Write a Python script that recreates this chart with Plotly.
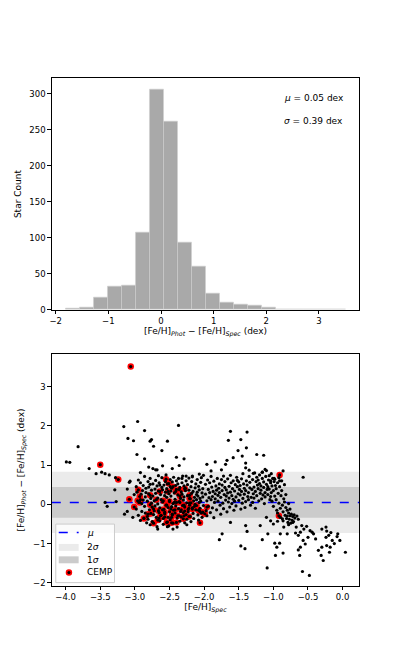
import plotly.graph_objects as go
import numpy as np

# top panel: histogram of the residuals
hist_min, hist_max = -1.81, 3.50
hist_counts = [2, 3, 17, 32, 34, 108, 306, 262, 93, 60, 23, 10, 7, 6, 3, 1, 1, 1, 0, 1]
mu, sigma = 0.05, 0.39

# bottom panel: ([Fe/H]_Spec, residual) pairs
stars_outer = [
    (-3.99, 1.08), (-3.94, 1.07), (-3.82, 1.47), (-3.66, 0.91), (-3.56, 0.78), (-3.48, 0.82),
    (-3.43, 0.78), (-3.37, 0.75), (-3.28, 0.68), (-3.16, 1.98), (-3.10, 1.68), (-3.02, 1.62),
    (-2.96, 2.11), (-2.97, 1.27), (-2.86, 1.88), (-2.78, 1.61), (-2.76, 1.65), (-2.73, 1.48),
    (-2.86, 1.16), (-2.92, 0.81), (-2.80, 0.95), (-2.74, 0.91), (-2.70, 0.88), (-2.53, 1.61),
    (-2.61, 1.37), (-2.60, 0.98), (-2.68, 0.88), (-2.37, 2.01), (-2.40, 1.20), (-2.29, 1.16),
    (-2.36, 0.99), (-2.46, 0.91), (-2.07, 0.77), (-2.17, 0.72), (-2.26, 0.72), (-2.32, 0.66),
    (-1.96, 1.02), (-1.90, 0.85), (-1.84, 1.08), (-1.75, 0.88), (-1.69, 1.02), (-1.67, 1.12),
    (-1.62, 1.86), (-1.65, 1.63), (-1.58, 1.19), (-1.51, 1.37), (-1.47, 1.65), (-1.45, 1.23),
    (-1.39, 1.44), (-1.38, 1.84), (-1.40, 1.05), (-1.40, 0.93), (-1.35, 0.87), (-1.29, 0.79),
    (-1.24, 1.27), (-1.14, 1.25), (-1.12, 0.89), (-1.16, 0.82), (-1.03, 0.78), (-0.86, 0.85),
    (-0.57, 0.69), (-0.91, 0.60), (-0.99, 0.66), (-1.04, 0.60), (-3.07, 0.59), (-3.08, 0.56),
    (-3.29, 0.37), (-3.11, 0.39), (-2.78, 0.51), (-2.64, 0.49), (-3.01, 0.25), (-3.40, -0.05),
    (-3.43, 0.05), (-3.27, 0.07), (-3.11, -0.18), (-3.15, -0.25), (-3.03, -0.33),
]

stars_core = [
    (-2.98, 0.45), (-2.98, -0.12), (-2.97, 0.31), (-2.95, 0.62), (-2.95, -0.28), (-2.94, 0.05),
    (-2.92, 0.55), (-2.92, -0.41), (-2.91, 0.26), (-2.90, 0.02), (-2.89, 0.35), (-2.90, -0.18),
    (-2.88, 0.48), (-2.87, -0.35), (-2.88, 0.11), (-2.86, 0.71), (-2.85, 0.19), (-2.86, -0.05),
    (-2.85, -0.22), (-2.84, 0.30), (-2.83, -0.47), (-2.84, 0.41), (-2.82, 0.08), (-2.81, 0.58),
    (-2.82, -0.31), (-2.80, 0.27), (-2.79, -0.14), (-2.80, 0.44), (-2.81, -0.38), (-2.78, 0.66),
    (-2.77, 0.15), (-2.78, -0.52), (-2.76, 0.36), (-2.75, -0.07), (-2.76, 0.03), (-2.74, 0.52),
    (-2.73, -0.26), (-2.74, 0.21), (-2.75, -0.44), (-2.72, 0.09), (-2.71, 0.39), (-2.72, -0.17),
    (-2.70, 0.61), (-2.69, -0.33), (-2.70, 0.28), (-2.71, -0.04), (-2.68, 0.47), (-2.67, 0.16),
    (-2.68, -0.57), (-2.66, 0.73), (-2.65, -0.21), (-2.66, 0.34), (-2.67, 0.01), (-2.64, -0.09),
    (-2.63, 0.25), (-2.64, -0.42), (-2.65, 0.55), (-2.62, 0.12), (-2.61, 0.43), (-2.62, -0.28),
    (-2.60, 0.37), (-2.59, -0.51), (-2.60, 0.06), (-2.61, 0.68), (-2.58, -0.13), (-2.57, 0.22),
    (-2.58, 0.49), (-2.59, -0.36), (-2.56, 0.31), (-2.55, -0.02), (-2.56, 0.58), (-2.57, -0.24),
    (-2.54, 0.18), (-2.53, -0.45), (-2.54, 0.40), (-2.55, 0.75), (-2.52, -0.08), (-2.51, 0.27),
    (-2.52, -0.33), (-2.53, 0.52), (-2.50, 0.10), (-2.49, 0.45), (-2.50, -0.19), (-2.51, -0.55),
    (-2.49, 0.63), (-2.48, 0.34), (-2.47, -0.06), (-2.48, 0.21), (-2.49, -0.39), (-2.46, 0.57),
    (-2.45, 0.02), (-2.46, -0.27), (-2.47, 0.41), (-2.44, -0.15), (-2.43, 0.29), (-2.44, 0.69),
    (-2.45, -0.48), (-2.42, 0.13), (-2.41, 0.48), (-2.42, -0.22), (-2.43, 0.05), (-2.40, 0.38),
    (-2.39, -0.35), (-2.40, 0.60), (-2.41, -0.04), (-2.38, 0.24), (-2.37, -0.11), (-2.38, 0.52),
    (-2.39, -0.58), (-2.36, 0.07), (-2.35, 0.43), (-2.36, -0.29), (-2.37, 0.66), (-2.34, -0.18),
    (-2.33, 0.32), (-2.34, 0.15), (-2.35, -0.43), (-2.32, 0.55), (-2.31, -0.03), (-2.32, 0.26),
    (-2.33, -0.32), (-2.30, 0.11), (-2.29, 0.47), (-2.30, -0.21), (-2.31, 0.72), (-2.28, -0.07),
    (-2.27, 0.35), (-2.28, -0.47), (-2.29, 0.19), (-2.26, 0.60), (-2.25, 0.04), (-2.26, -0.26),
    (-2.27, 0.41), (-2.24, 0.22), (-2.23, -0.13), (-2.24, 0.50), (-2.25, -0.38), (-2.22, 0.36),
    (-2.21, -0.02), (-2.22, 0.67), (-2.23, -0.19), (-2.20, 0.14), (-2.19, 0.45), (-2.20, -0.31),
    (-2.21, 0.03), (-2.18, 0.58), (-2.17, -0.09), (-2.18, 0.28), (-2.19, -0.44), (-2.16, 0.33),
    (-2.15, 0.09), (-2.16, -0.23), (-2.17, 0.70), (-2.14, -0.05), (-2.13, 0.42), (-2.14, 0.18),
    (-2.15, -0.36), (-2.12, 0.52), (-2.11, 0.25), (-2.12, -0.14), (-2.13, 0.00), (-2.10, 0.31),
    (-2.09, -0.27), (-2.10, 0.63), (-2.11, 0.12), (-2.08, 0.46), (-2.07, 0.05), (-2.08, -0.40),
    (-2.09, 0.21), (-2.06, 0.15), (-2.05, 0.56), (-2.06, -0.10), (-2.07, 0.37), (-2.04, -0.22),
    (-2.03, 0.29), (-2.04, 0.68), (-2.05, 0.08), (-2.02, 0.40), (-2.01, -0.03), (-2.02, 0.19),
    (-2.03, -0.33), (-2.01, 0.74),
    (-1.98, 0.26), (-1.97, -0.16), (-1.98, 0.51), (-1.96, 0.09), (-1.95, 0.62), (-1.96, -0.29),
    (-1.94, 0.38), (-1.93, 0.17), (-1.94, -0.05), (-1.92, 0.55), (-1.91, -0.21), (-1.92, 0.30),
    (-1.90, 0.12), (-1.89, 0.44), (-1.90, 0.71), (-1.88, -0.09), (-1.87, 0.33), (-1.88, 0.20),
    (-1.86, 0.59), (-1.85, 0.05), (-1.86, -0.34), (-1.84, 0.27), (-1.83, 0.47), (-1.84, 0.14),
    (-1.82, -0.14), (-1.81, 0.66), (-1.82, 0.36), (-1.80, 0.08), (-1.79, 0.41), (-1.80, 0.23),
    (-1.78, 0.52), (-1.77, -0.02), (-1.78, 0.30), (-1.76, 0.18), (-1.75, 0.63), (-1.76, -0.25),
    (-1.74, 0.35), (-1.73, 0.03), (-1.74, 0.49), (-1.72, -0.11), (-1.71, 0.25), (-1.72, 0.72),
    (-1.70, 0.43), (-1.69, 0.11), (-1.70, 0.58), (-1.68, 0.21), (-1.67, -0.19), (-1.68, 0.37),
    (-1.66, 0.65), (-1.65, 0.06), (-1.66, 0.29), (-1.64, 0.46), (-1.63, -0.07), (-1.64, 0.16),
    (-1.62, 0.31), (-1.61, 0.55), (-1.62, 0.74), (-1.60, 0.02), (-1.59, 0.40), (-1.60, 0.22),
    (-1.58, 0.60), (-1.57, -0.15), (-1.58, 0.13), (-1.56, 0.34), (-1.55, 0.50), (-1.56, 0.08),
    (-1.54, 0.19), (-1.53, 0.69), (-1.54, -0.04), (-1.52, 0.45), (-1.51, 0.27), (-1.52, 0.61),
    (-1.50, 0.10), (-1.49, 0.38), (-1.50, 0.57), (-1.48, 0.24), (-1.47, -0.12), (-1.48, 0.48),
    (-1.46, 0.65), (-1.45, 0.03), (-1.46, 0.33), (-1.44, 0.15), (-1.43, 0.52), (-1.44, 0.78),
    (-1.42, 0.41), (-1.41, -0.08), (-1.42, 0.26), (-1.40, 0.07), (-1.39, 0.60), (-1.40, 0.35),
    (-1.38, 0.49), (-1.37, 0.20), (-1.36, 0.30), (-1.35, 0.71), (-1.36, 0.12), (-1.34, 0.56),
    (-1.33, -0.02), (-1.34, 0.42), (-1.32, 0.18), (-1.31, 0.38), (-1.30, 0.63), (-1.29, 0.27),
    (-1.30, 0.05), (-1.28, 0.44), (-1.27, 0.80), (-1.28, 0.16), (-1.26, 0.33), (-1.25, 0.58),
    (-1.26, -0.10), (-1.24, 0.22), (-1.23, 0.49), (-1.24, 0.69), (-1.22, 0.40), (-1.21, 0.09),
    (-1.22, 0.62), (-1.20, 0.53), (-1.19, 0.28), (-1.20, 0.75), (-1.18, 0.36), (-1.17, 0.14),
    (-1.18, 0.47), (-1.16, 0.66), (-1.15, 0.24), (-1.16, 0.82), (-1.14, 0.43), (-1.13, 0.02),
    (-1.14, 0.57), (-1.12, 0.30), (-1.11, 0.71), (-1.12, 0.19), (-1.10, 0.51), (-1.09, 0.38),
    (-1.10, 0.86), (-1.08, 0.25), (-1.07, 0.62), (-1.08, 0.45), (-1.06, 0.39), (-1.05, 0.12),
    (-1.06, 0.73), (-1.04, 0.55), (-1.03, 0.30), (-1.04, 0.20), (-1.02, 0.47), (-1.01, 0.66),
    (-1.02, 0.08),
    (-1.00, 0.35), (-0.99, 0.58), (-1.00, -0.05), (-0.98, 0.21), (-0.97, 0.48), (-0.98, 0.64),
    (-0.96, 0.12), (-0.95, -0.15), (-0.96, 0.40), (-0.94, 0.55), (-0.93, 0.28), (-0.94, -0.22),
    (-0.92, 0.03), (-0.91, 0.45), (-0.92, 0.68), (-0.90, -0.10), (-0.89, 0.22), (-0.90, -0.33),
    (-0.88, 0.35), (-0.87, -0.02), (-0.88, 0.60), (-0.86, -0.19), (-0.85, 0.14), (-0.86, -0.42),
    (-0.84, 0.06), (-0.83, -0.28), (-0.84, 0.50), (-0.82, -0.08), (-0.81, -0.36), (-0.82, 0.25),
    (-0.80, -0.15), (-0.79, -0.46), (-0.80, -0.30), (-0.78, -0.22), (-0.77, -0.38), (-0.78, 0.02),
    (-0.76, -0.29), (-0.75, -0.48), (-0.76, -0.12), (-0.74, -0.25), (-0.73, -0.40), (-0.72, -0.31),
    (-0.71, -0.44), (-0.70, -0.27), (-0.69, -0.35), (-0.66, -0.30), (-0.64, -0.38),
]

stars_low = [
    (-1.09, -1.62), (-0.58, -1.71), (-0.48, -1.81), (-0.97, -1.30), (-0.86, -1.24), (-0.98, -0.99),
    (-0.91, -0.99), (-0.95, -1.09), (-1.08, -0.75), (-1.16, -0.90), (-0.90, -0.75), (-0.80, -0.75),
    (-0.68, -0.73), (-0.61, -0.71), (-0.67, -0.58), (-0.59, -0.54), (-0.56, -0.63), (-0.64, -0.79),
    (-0.85, -0.58), (-0.78, -0.52), (-0.72, -0.46), (-1.00, -0.50), (-1.04, -0.42), (-1.10, -0.33),
    (-0.94, -0.43), (-0.87, -0.37), (-0.62, -1.30), (-0.64, -1.16), (-0.61, -1.09), (-0.54, -1.01),
    (-0.57, -0.92), (-0.50, -0.84), (-0.44, -0.71), (-0.47, -0.67), (-0.39, -0.88), (-0.42, -0.75),
    (-0.35, -1.17), (-0.30, -1.09), (-0.31, -1.30), (-0.28, -1.43), (-0.24, -0.58), (-0.23, -0.68),
    (-0.20, -0.79), (-0.15, -0.92), (-0.18, -1.09), (-0.19, -1.22), (-0.12, -1.00), (-0.08, -0.82),
    (-0.04, -0.92), (-0.07, -0.75), (0.04, -1.22), (-0.23, -1.05), (-0.24, -0.84), (-0.17, -0.72),
    (-0.30, -0.63), (-1.74, -0.75), (-1.78, -0.90), (-1.47, -1.06), (-1.41, -1.13), (-1.40, -0.54),
    (-1.38, -0.69), (-1.19, -0.54), (-1.62, -0.46), (-2.25, -0.52), (-2.53, -0.57), (-2.45, -0.63),
    (-2.67, -0.63), (-0.52, -0.56),
]

stars_cemp = [
    (-3.06, 3.51), (-3.50, 1.01), (-3.24, 0.63), (-2.55, 0.64), (-2.51, 0.53), (-2.95, 0.37),
    (-3.08, 0.13), (-3.01, -0.07), (-2.93, 0.20), (-2.92, 0.12), (-2.78, 0.23), (-2.64, 0.33),
    (-2.52, 0.33), (-2.41, 0.33), (-2.36, 0.38), (-2.28, 0.40), (-2.35, 0.21), (-2.21, 0.15),
    (-2.78, -0.01), (-2.73, -0.12), (-2.77, -0.23), (-2.87, -0.36), (-2.73, -0.48), (-2.65, -0.35),
    (-2.60, -0.14), (-2.57, -0.20), (-2.54, -0.02), (-2.48, -0.12), (-2.42, -0.14), (-2.46, -0.25),
    (-2.38, -0.29), (-2.33, -0.14), (-2.28, -0.17), (-2.22, -0.10), (-2.17, -0.12), (-2.30, -0.37),
    (-2.22, -0.31), (-2.63, -0.29), (-2.57, -0.32), (-2.66, -0.16), (-2.47, -0.33), (-2.69, 0.12),
    (-2.59, 0.09), (-2.50, 0.07), (-2.40, 0.05), (-2.35, 0.05), (-2.29, -0.02), (-2.19, 0.04),
    (-2.08, -0.15), (-2.06, -0.18), (-1.96, -0.07), (-2.02, -0.20), (-1.99, -0.24), (-2.06, -0.47),
    (-2.40, -0.46), (-2.47, -0.47), (-2.29, -0.29), (-2.67, -0.40), (-2.54, -0.46), (-0.92, -0.29),
    (-0.91, 0.75), (-2.96, 0.09), (-2.93, 0.05), (-2.21, 0.23), (-2.11, -0.03), (-2.81, -0.25),
    (-2.45, 0.45),
]

FONT = "DejaVu Sans"
W, H = 399, 664
PAD = 8  # page body margin around the plot div


def px_x(px):
    return (px - PAD) / W


def px_y(py):
    return 1 - (py - PAD) / H


edges = np.linspace(hist_min, hist_max, len(hist_counts) + 1)
centers = (edges[:-1] + edges[1:]) / 2
bin_w = edges[1] - edges[0]

all_stars = stars_outer + stars_core + stars_low + stars_cemp
sx = [p[0] for p in all_stars]
sy = [p[1] for p in all_stars]
cx = [p[0] for p in stars_cemp]
cy = [p[1] for p in stars_cemp]

fig = go.Figure()

fig.add_trace(go.Bar(
    x=centers, y=hist_counts, width=bin_w,
    marker=dict(color="#a9a9a9", line=dict(color="#cfcfcf", width=0.6)),
    xaxis="x", yaxis="y"
))

# CEMP stars drawn first so the black dots sit in their centres
fig.add_trace(go.Scatter(
    x=cx, y=cy, mode="markers",
    marker=dict(color="red", size=6.5, line=dict(width=0)),
    xaxis="x2", yaxis="y2"
))
fig.add_trace(go.Scatter(
    x=sx, y=sy, mode="markers",
    marker=dict(color="black", size=3.2, line=dict(width=0)),
    xaxis="x2", yaxis="y2"
))

# sigma bands and mean line
fig.add_shape(type="rect", xref="x2 domain", yref="y2", x0=0, x1=1,
              y0=mu - 2 * sigma, y1=mu + 2 * sigma, fillcolor="#ebebeb",
              line=dict(width=0), layer="below")
fig.add_shape(type="rect", xref="x2 domain", yref="y2", x0=0, x1=1,
              y0=mu - sigma, y1=mu + sigma, fillcolor="#cbcbcb",
              line=dict(width=0), layer="below")
fig.add_shape(type="line", xref="x2 domain", yref="y2", x0=0, x1=1,
              y0=mu, y1=mu, line=dict(color="blue", width=1.5, dash="dash"),
              layer="below")

# legend box drawn by hand (matplotlib style, lower left)
fig.add_shape(type="rect", xref="paper", yref="paper",
              x0=px_x(54), x1=px_x(113), y0=px_y(587), y1=px_y(528),
              fillcolor="rgba(255,255,255,0.8)", line=dict(color="#cccccc", width=1))
fig.add_shape(type="line", xref="paper", yref="paper",
              x0=px_x(57), x1=px_x(77), y0=px_y(536.5), y1=px_y(536.5),
              line=dict(color="blue", width=1.5, dash="dash"))
fig.add_shape(type="rect", xref="paper", yref="paper",
              x0=px_x(57), x1=px_x(77), y0=px_y(555), y1=px_y(548),
              fillcolor="#ebebeb", line=dict(width=0))
fig.add_shape(type="rect", xref="paper", yref="paper",
              x0=px_x(57), x1=px_x(77), y0=px_y(567.5), y1=px_y(560.5),
              fillcolor="#cbcbcb", line=dict(width=0))
fig.add_shape(type="circle", xref="paper", yref="paper",
              x0=px_x(64), x1=px_x(70.5), y0=px_y(580), y1=px_y(573.5),
              fillcolor="red", line=dict(width=0))
fig.add_shape(type="circle", xref="paper", yref="paper",
              x0=px_x(65.7), x1=px_x(68.8), y0=px_y(578.3), y1=px_y(575.2),
              fillcolor="black", line=dict(width=0))
for label, ly in [("<i>μ</i>", 536.5), ("2<i>σ</i>", 551.5), ("1<i>σ</i>", 564), ("CEMP", 576.7)]:
    fig.add_annotation(xref="paper", yref="paper", x=px_x(83), y=px_y(ly),
                       text=label, showarrow=False, xanchor="left", yanchor="middle",
                       font=dict(size=9))

axis_common = dict(
    showline=True, mirror=True, linecolor="black", linewidth=1,
    ticks="outside", ticklen=3.5, tickwidth=0.8, tickcolor="black",
    showgrid=False, zeroline=False,
    tickfont=dict(family=FONT, size=8.5, color="black"),
)

resid_label = "[Fe/H]<sub><i>Phot</i></sub> \u2212 [Fe/H]<sub><i>Spec</i></sub> (dex)"

fig.update_layout(
    width=W, height=H,
    margin=dict(l=0, r=0, t=0, b=0),
    paper_bgcolor="white", plot_bgcolor="white",
    font=dict(family=FONT, size=9, color="black"),
    bargap=0, showlegend=False,
    xaxis=dict(axis_common, domain=[px_x(50), px_x(359)], anchor="y",
               range=[-2.075, 3.765], tickvals=[-2, -1, 0, 1, 2, 3],
               ticktext=["\u22122", "\u22121", "0", "1", "2", "3"],
               title=dict(text=resid_label, font=dict(size=9), standoff=2)),
    yaxis=dict(axis_common, domain=[px_y(312), px_y(79)], anchor="x",
               range=[0, 321.3], tickvals=[0, 50, 100, 150, 200, 250, 300],
               title=dict(text="Star Count", font=dict(size=9), standoff=6)),
    xaxis2=dict(axis_common, domain=[px_x(50), px_x(359)], anchor="y2",
                range=[-4.2, 0.24], tickvals=[-4, -3.5, -3, -2.5, -2, -1.5, -1, -0.5, 0],
                ticktext=["\u22124.0", "\u22123.5", "\u22123.0", "\u22122.5", "\u22122.0",
                          "\u22121.5", "\u22121.0", "\u22120.5", "0.0"],
                title=dict(text="[Fe/H]<sub><i>Spec</i></sub>", font=dict(size=9), standoff=2)),
    yaxis2=dict(axis_common, domain=[px_y(590), px_y(357)], anchor="x2",
                range=[-2.07, 3.82], tickvals=[-2, -1, 0, 1, 2, 3],
                ticktext=["\u22122", "\u22121", "0", "1", "2", "3"],
                title=dict(text=resid_label, font=dict(size=9), standoff=6)),
)

fig.add_annotation(xref="paper", yref="paper", x=px_x(281), y=px_y(99),
                   text="<i>μ</i> = 0.05 dex", showarrow=False,
                   xanchor="left", yanchor="middle", font=dict(size=9))
fig.add_annotation(xref="paper", yref="paper", x=px_x(281), y=px_y(122),
                   text="<i>σ</i> = 0.39 dex", showarrow=False,
                   xanchor="left", yanchor="middle", font=dict(size=9))

fig.write_html("out.html")
